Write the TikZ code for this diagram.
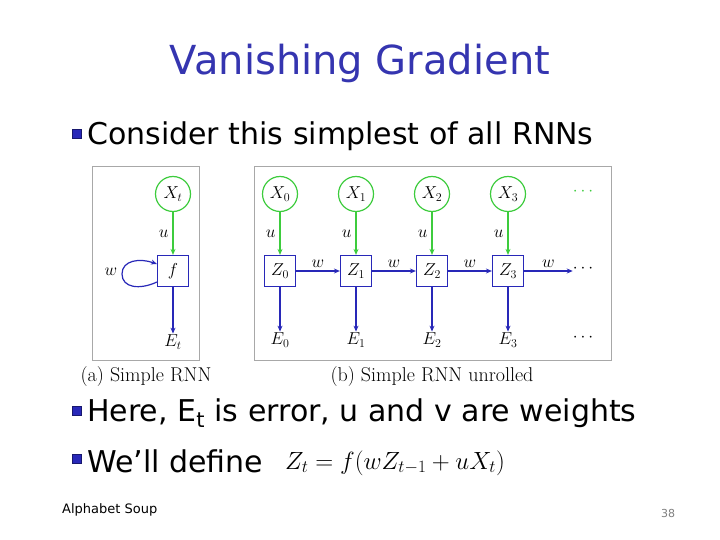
\documentclass[tikz,border=0pt]{standalone}
\usepackage{fontspec}
\setmainfont{DejaVu Sans}
\newfontfamily\lmfont{Latin Modern Roman}
\usetikzlibrary{arrows.meta}
\definecolor{ttl}{HTML}{3535B0}
\definecolor{gr}{HTML}{3DCC3D}
\definecolor{bl}{HTML}{2828B8}
\definecolor{bx}{HTML}{A8A8A8}
\tikzset{
  xin/.style={circle,draw=gr,line width=1.2pt,minimum size=35pt,inner sep=0pt,font=\fontsize{17}{17}\selectfont},
  zbox/.style={rectangle,draw=bl,line width=1.2pt,minimum size=31pt,inner sep=0pt,font=\fontsize{17}{17}\selectfont},
  etxt/.style={inner sep=1pt,font=\fontsize{17}{17}\selectfont},
  lbl/.style={inner sep=1pt,font=\fontsize{17}{17}\selectfont},
  garr/.style={draw=gr,line width=1.2pt,-{Stealth[length=6pt,width=5pt]}},
  barr/.style={draw=bl,line width=1.2pt,-{Stealth[length=6pt,width=5pt]}},
  frame/.style={draw=bx,line width=1pt},
  bul/.style={fill=bl,minimum size=9pt,inner sep=0pt,draw=bl!60!black,line width=0.6pt},
  body/.style={anchor=west,inner sep=0pt,font=\fontsize{30}{30}\selectfont},
  captxt/.style={inner sep=0pt,font=\fontsize{20}{20}\lmfont}
}
\begin{document}
\begin{tikzpicture}[x=1pt,y=-1pt]
\useasboundingbox[fill=white] (0,0) rectangle (720,540);
% title
\node[text=ttl,font=\fontsize{40}{40}\selectfont] (title) at (360,63) {Vanishing Gradient};
% bullet 1
\node[bul] (b1) at (77,134) {};
\node[body] (t1) at (87,136) {Consider this simplest of all RNNs};
% frames
\draw[frame] (92,167) rectangle (199,360);
\draw[frame] (254,167) rectangle (611,360);
% (a)
\node[xin] (xt) at (173,194) {$X_t$};
\node[zbox] (f) at (173,271) {$f$};
\node[etxt] (et) at (173,342) {$E_t$};
\draw[garr] (xt) -- node[lbl,left=3pt]{$u$} (f);
\draw[barr] (f) -- (et);
\draw[barr] ([yshift=-11pt]f.west) .. controls (140,290) and (122,288) .. (122,274) .. controls (122,260) and (140,258) .. ([yshift=7pt]f.west);
\node[lbl] (wl) at (111,272) {$w$};
% (b)
\foreach \i/\x in {0/280,1/356,2/432,3/508}{
  \node[xin] (x\i) at (\x,194) {$X_\i$};
  \node[zbox] (z\i) at (\x,271) {$Z_\i$};
  \node[etxt] (e\i) at (\x,340) {$E_\i$};
  \draw[garr] (x\i) -- node[lbl,left=3pt]{$u$} (z\i);
  \draw[barr] (z\i) -- (e\i);
}
\node[inner sep=0pt,text=gr,font=\fontsize{17}{17}\selectfont] (dx) at (583,192) {$\cdots$};
\node[inner sep=0pt,font=\fontsize{17}{17}\selectfont] (dz) at (583,269) {$\cdots$};
\node[inner sep=0pt,font=\fontsize{17}{17}\selectfont] (de) at (583,338) {$\cdots$};
\draw[barr] (z0) -- node[lbl,above=2pt]{$w$} (z1);
\draw[barr] (z1) -- node[lbl,above=2pt]{$w$} (z2);
\draw[barr] (z2) -- node[lbl,above=2pt]{$w$} (z3);
\draw[barr] (z3) -- node[lbl,above=2pt]{$w$} (z3 -| dz.west);
% captions
\node[captxt] (ca) at (146,377) {(a) Simple RNN};
\node[captxt] (cb) at (432,377) {(b) Simple RNN unrolled};
% bullets 2,3
\node[bul] (b2) at (77,411) {};
\node[body] (t2) at (87,413) {Here, E\textsubscript{t} is error, u and v are weights};
\node[bul] (b3) at (77,459) {};
\node[body] (t3) at (87,461) {We’ll define};
\node[anchor=west,inner sep=0pt,font=\fontsize{24}{24}\selectfont] (eq) at (285,463) {$Z_t = f(wZ_{t-1} + uX_t)$};
% footer
\node[anchor=west,inner sep=0pt,font=\fontsize{13}{13}\selectfont] (foot) at (62,510) {Alphabet Soup};
\node[inner sep=0pt,text=gray,font=\fontsize{11}{11}\selectfont] (pg) at (668,513) {38};
\end{tikzpicture}
\end{document}
